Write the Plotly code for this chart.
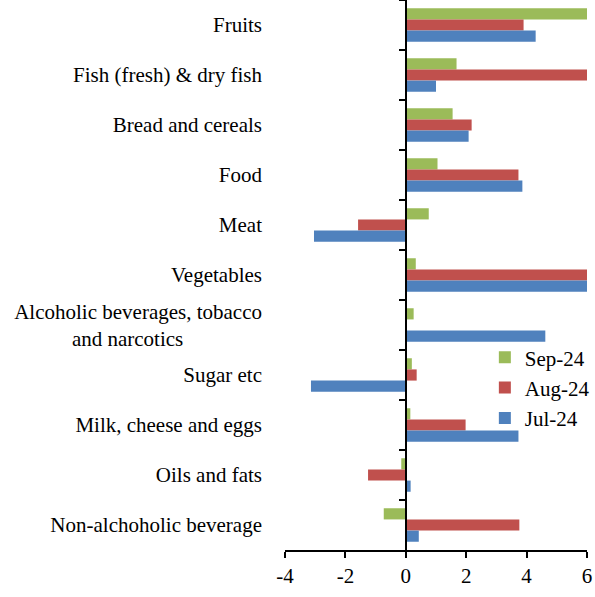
import plotly.graph_objects as go

# categories top to bottom
categories = [
    "Fruits",
    "Fish (fresh) & dry fish",
    "Bread and cereals",
    "Food",
    "Meat",
    "Vegetables",
    "Alcoholic beverages, tobacco<br>and narcotics" + "\u00a0" * 15,
    "Sugar etc",
    "Milk, cheese and eggs",
    "Oils and fats",
    "Non-alchoholic beverage",
]

sep_24 = [6.0, 1.68, 1.55, 1.05, 0.76, 0.33, 0.26, 0.2, 0.15, -0.15, -0.73]
aug_24 = [3.9, 6.0, 2.18, 3.73, -1.58, 6.0, 0.0, 0.36, 1.98, -1.25, 3.76]
jul_24 = [4.3, 1.0, 2.08, 3.86, -3.04, 6.0, 4.62, -3.14, 3.73, 0.16, 0.43]

x_ticks = [-4, -2, 0, 2, 4, 6]
x_ticktext = ["-4", "-2", "0", "2", "4", "6"]

series = [
    ("Sep-24", sep_24, "#9BBB59"),
    ("Aug-24", aug_24, "#C0504D"),
    ("Jul-24", jul_24, "#4F81BD"),
]

fig = go.Figure()
for name, vals, col in series:
    fig.add_trace(go.Bar(
        y=categories, x=vals, name=name, orientation="h",
        marker=dict(color=col, line=dict(width=0)),
    ))

# dummy trace so the zero-line axis has the same categories
fig.add_trace(go.Scatter(
    y=categories, x=[None] * len(categories), yaxis="y2",
    showlegend=False, hoverinfo="skip", mode="markers",
))

ncat = len(categories)
yrange = [ncat - 0.5, -0.5]

fig.update_layout(
    width=595, height=597,
    margin=dict(l=285, r=8, t=0, b=47),
    paper_bgcolor="white", plot_bgcolor="white",
    font=dict(family="Liberation Serif, Times New Roman, serif", size=21, color="black"),
    barmode="group", bargap=0.33, bargroupgap=0,
    showlegend=True,
    legend=dict(x=1.026, y=0.387, xanchor="right", yanchor="top",
                bgcolor="rgba(0,0,0,0)", font=dict(size=21)),
    xaxis=dict(
        range=[-4, 6], tickvals=x_ticks, ticktext=x_ticktext,
        showgrid=False, zeroline=False,
        showline=True, linecolor="black", linewidth=1.5,
        ticks="outside", ticklen=6, tickcolor="black", tickwidth=1.5,
    ),
    yaxis=dict(
        type="category", categoryorder="array", categoryarray=categories,
        range=yrange, showgrid=False, zeroline=False,
        showline=False, ticks="", ticklabelstandoff=22,
    ),
    yaxis2=dict(
        type="category", categoryorder="array", categoryarray=categories,
        range=yrange, overlaying="y", anchor="free", position=0.4,
        side="left", showgrid=False, zeroline=False, showticklabels=False,
        showline=True, linecolor="black", linewidth=2,
        ticks="outside", ticklen=6, tickcolor="black", tickwidth=1.5,
        tickson="boundaries",
    ),
)

# drop the default page margin so the figure fills the window
fig.write_html(
    "out.html",
    config={"displayModeBar": False},
    post_script="document.body.style.margin='0';document.body.style.overflow='hidden';",
)
